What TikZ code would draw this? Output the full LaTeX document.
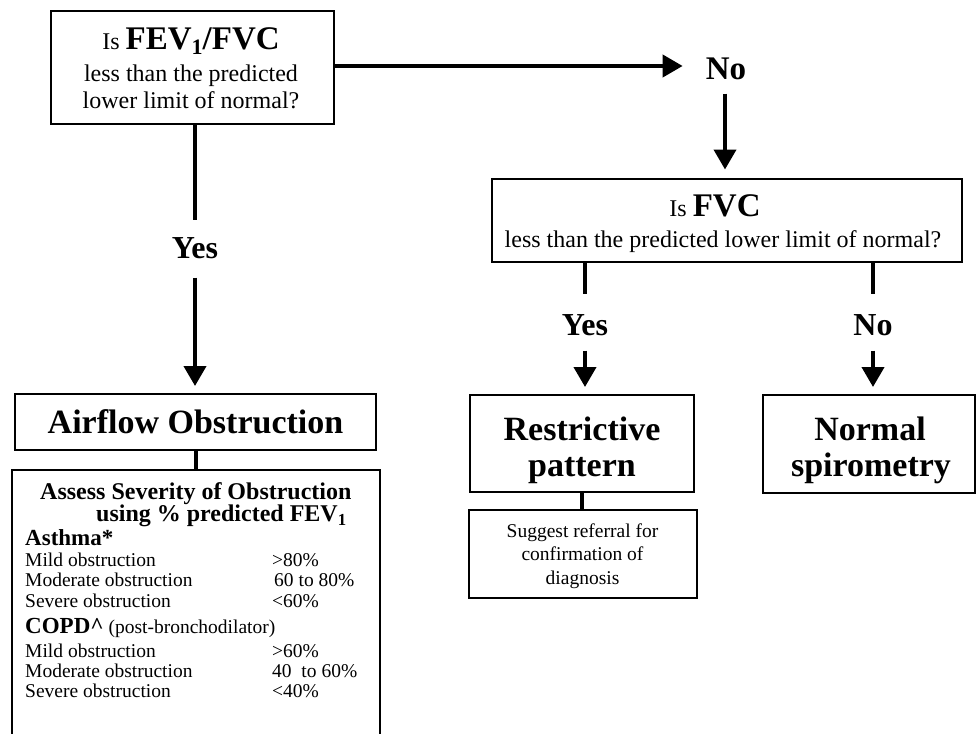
\documentclass[tikz,border=0pt]{standalone}
\usepackage{fontspec}
\setmainfont{Liberation Serif}
\usetikzlibrary{arrows.meta}
\newcommand{\fsz}[2]{\fontsize{#1}{#2}\selectfont}
\begin{document}
\begin{tikzpicture}[x=1pt,y=-1pt,
  box/.style={draw, line width=2pt, inner sep=0pt},
  txt/.style={inner sep=0pt, anchor=base, font=\fsz{24}{26}},
  big/.style={inner sep=0pt, anchor=base, font=\fsz{34}{35}\bfseries},
  conn/.style={line width=4pt},
  arr/.style={conn, -{Triangle[length=20pt,width=22pt]}},
  lbl/.style={inner sep=0pt, anchor=base, font=\fsz{32}{36}\bfseries},
  row/.style={inner sep=0pt, anchor=base west, font=\fsz{19.5}{21}},
  rowb/.style={inner sep=0pt, anchor=base west, font=\fsz{23}{25}\bfseries}]
\useasboundingbox (0,0) rectangle (976,733);
\clip (0,0) rectangle (976,733);

% boxes
\node[box, minimum width=283pt, minimum height=113pt] (q1) at (192.5,67.5) {};
\node[box, minimum width=470pt, minimum height=83pt] (q2) at (727,220.5) {};
\node[box, minimum width=361pt, minimum height=56pt, font=\fsz{34}{36}\bfseries] (ao) at (195.5,422)
  {Airflow Obstruction};
\node[box, minimum width=224pt, minimum height=97pt] (rp) at (582,443.5) {};
\node[box, minimum width=212pt, minimum height=98pt] (ns) at (869,444) {};
\node[box, minimum width=228pt, minimum height=88pt] (sg) at (583,554) {};
\node[box, minimum width=368pt, minimum height=300pt] (as) at (196,620) {};

% box texts
\node[txt] (q1a) at (191,50) {Is {\fsz{33}{33}\bfseries FEV\raisebox{-5pt}{\fsz{22}{22}1}/FVC}};
\node[txt] (q1b) at (191,81.7) {less than the predicted};
\node[txt] (q1c) at (191,108.3) {lower limit of normal?};
\node[txt] (q2a) at (715,216.7) {Is {\fsz{33}{33}\bfseries FVC}};
\node[txt] (q2b) at (723,247.3) {less than the predicted lower limit of normal?};
\node[big] (rpa) at (582,440) {Restrictive};
\node[big] (rpb) at (582,476.5) {pattern};
\node[big] (nsa) at (870,440) {Normal};
\node[big] (nsb) at (871,476.5) {spirometry};
\node[txt, font=\fsz{19.5}{23}] (sga) at (582.5,537) {Suggest referral for};
\node[txt, font=\fsz{19.5}{23}] (sgb) at (582.5,560) {confirmation of};
\node[txt, font=\fsz{19.5}{23}] (sgc) at (582.5,584) {diagnosis};

% labels
\node[lbl, font=\fsz{33}{36}\bfseries] (no1) at (726,80) {No};
\node[lbl] (yes1) at (195,258) {Yes};
\node[lbl] (yes2) at (585,335) {Yes};
\node[lbl] (no2) at (873,335) {No};

% connectors
\draw[arr, shorten >=23pt] ([yshift=1.5pt]q1.east) -- ([yshift=1.5pt]q1.east -| no1.west);
\draw[arr, shorten <=13pt, shorten >=8.5pt] ([xshift=-1pt]no1.south) -- ([xshift=-1pt]no1.south |- q2.north);
\draw[conn, shorten >=17pt] (yes1.north |- q1.south) -- (yes1.north);
\draw[arr, shorten <=19pt, shorten >=7pt] (yes1.south) -- (yes1.south |- ao.north);
\draw[conn, shorten >=20pt] (yes2.north |- q2.south) -- (yes2.north);
\draw[arr, shorten <=15pt, shorten >=7pt] (yes2.south) -- (yes2.south |- rp.north);
\draw[conn, shorten >=20pt] (no2.north |- q2.south) -- (no2.north);
\draw[arr, shorten <=15pt, shorten >=7pt] (no2.south) -- (no2.south |- ns.north);
\draw[conn] (ao.south) -- (ao.south |- as.north);
\draw[conn] (rp.south) -- (rp.south |- sg.north);

% assess box contents
\node[inner sep=0pt, anchor=north west, align=left, font=\fsz{24}{20.3}\bfseries] (t1) at (40,482)
  {Assess Severity of Obstruction\\\hspace*{56pt}using \% predicted FEV\textsubscript{1}};
\node[rowb] (t3) at (25,545) {Asthma*};
\node[row] (a1) at (25,566) {Mild obstruction};
\node[row] (a2) at (25,586) {Moderate obstruction};
\node[row] (a3) at (25,607) {Severe obstruction};
\node[row] (v1) at (272,566) {>80\%};
\node[row] (v2) at (274,586) {60 to 80\%};
\node[row] (v3) at (272,607) {<60\%};
\node[row] (t4) at (25,633) {{\fsz{23}{25}\bfseries COPD\textasciicircum} (post-bronchodilator)};
\node[row] (c1) at (25,657) {Mild obstruction};
\node[row] (c2) at (25,677) {Moderate obstruction};
\node[row] (c3) at (25,697) {Severe obstruction};
\node[row] (w1) at (272,657) {>60\%};
\node[row] (w2) at (272,677) {40\ \ to 60\%};
\node[row] (w3) at (272,697) {<40\%};
\end{tikzpicture}
\end{document}
